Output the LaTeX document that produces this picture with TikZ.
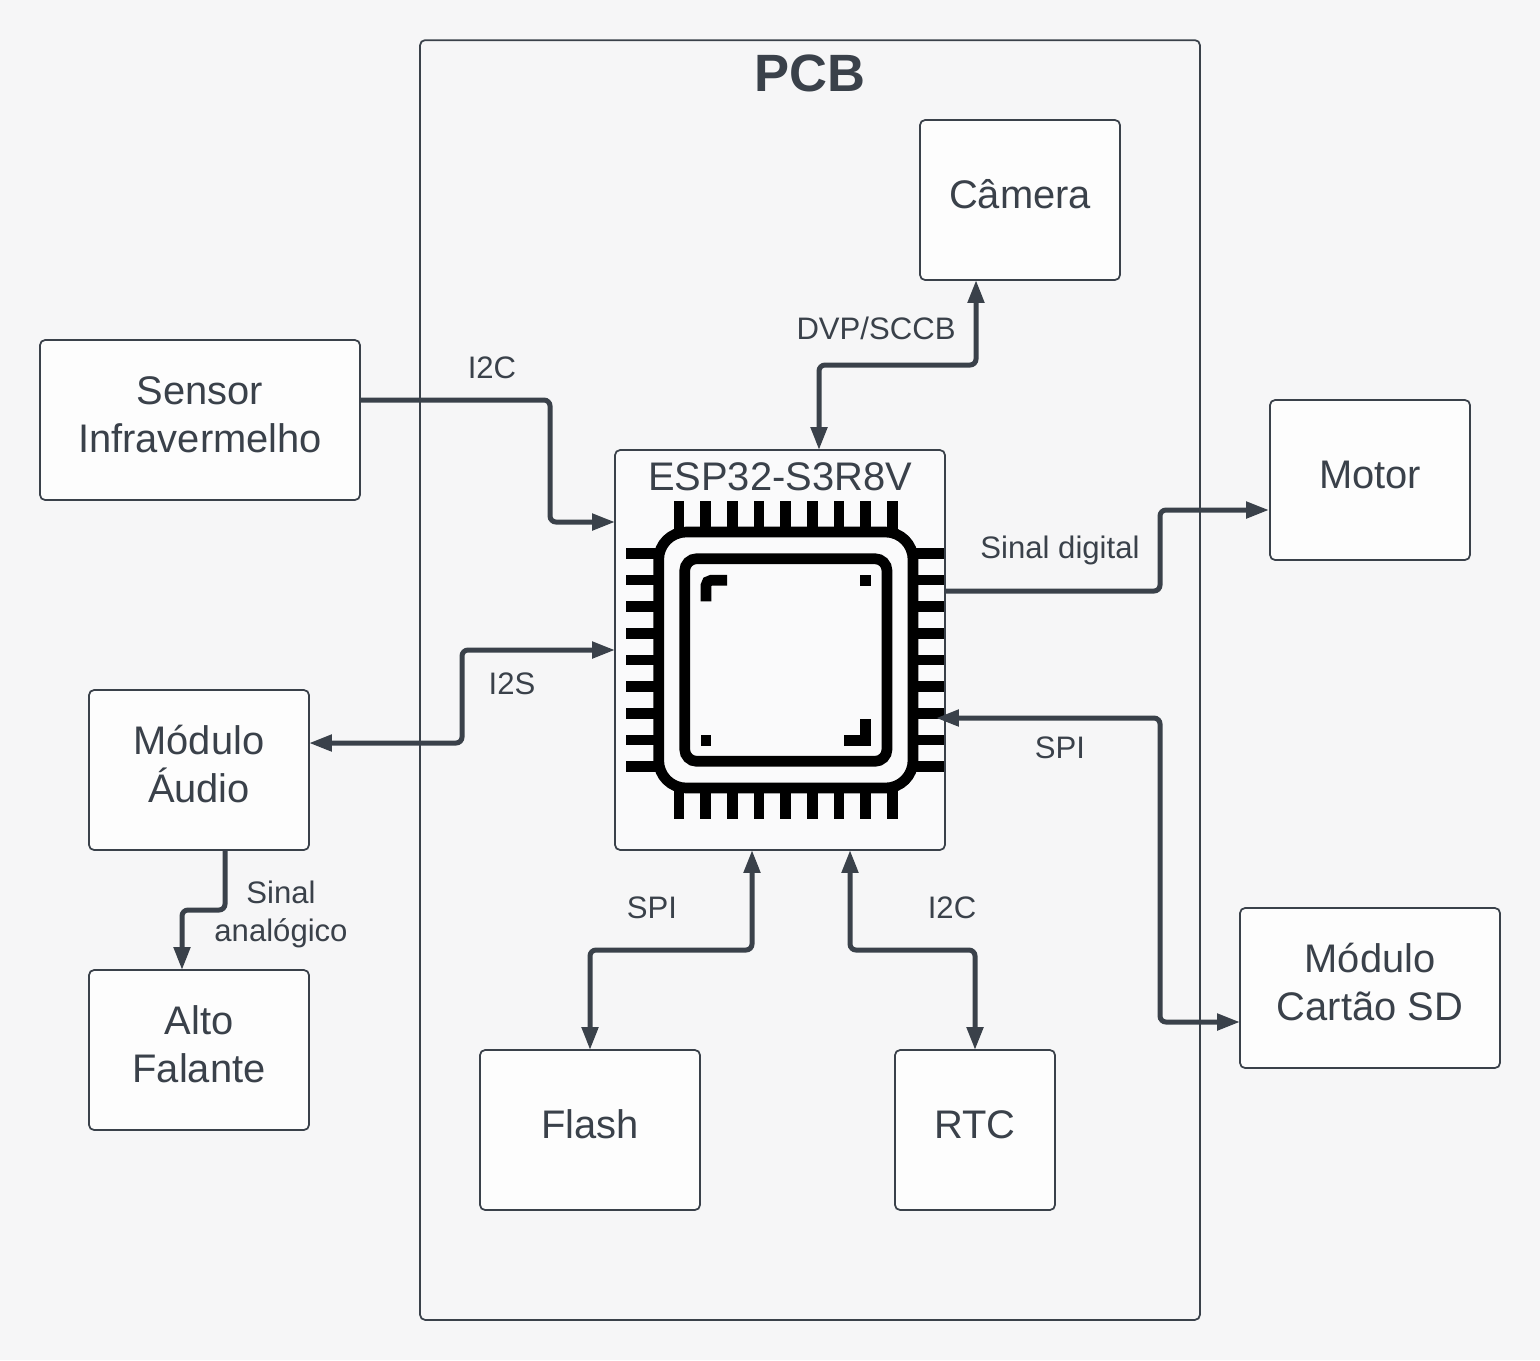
\documentclass[tikz,border=0pt]{standalone}
\usepackage{fontspec}
\setmainfont{Liberation Sans}
\usetikzlibrary{arrows.meta,calc,positioning}
\definecolor{inkcol}{HTML}{3A414A}
\definecolor{bgcol}{HTML}{F6F6F7}
\definecolor{boxcol}{HTML}{FDFDFD}
\tikzset{
  blockbox/.style={draw=inkcol,fill=boxcol,line width=0.035cm,rounded corners=0.1cm,outer sep=0pt,
    inner sep=0pt,align=center,text=inkcol,font=\fontsize{22.7}{27.4}\selectfont},
  oneline/.style={text height=20pt,text depth=9.8pt},
  twolines/.style={text height=47.4pt,text depth=10pt},
  busname/.style={text=inkcol,align=center,inner sep=0pt,font=\fontsize{17.7}{21.6}\selectfont},
  link/.style={draw=inkcol,line width=0.1cm,rounded corners=0.12cm},
  to tip/.style={-{Triangle[length=0.46cm,width=0.32cm]}},
  both tips/.style={{Triangle[length=0.46cm,width=0.32cm]}-{Triangle[length=0.46cm,width=0.32cm]}},
  pin/.style={line width=0.2133cm,black}
}
\begin{document}
\begin{tikzpicture}[x=0.02cm,y=-0.02cm]
\path[use as bounding box,fill=bgcol] (0,0) rectangle (1540,1360);
% placa
\node[blockbox,fill=bgcol,minimum width=15.6cm,minimum height=25.6cm] (pcb) at (810,680) {};
\node[text=inkcol,inner sep=0pt,font=\bfseries\fontsize{29.9}{32}\selectfont] (pcbname) at (810,73) {PCB};
% blocos
\node[blockbox,oneline,minimum width=4cm,minimum height=3.2cm] (camera) at (1020,200) {Câmera};
\node[blockbox,twolines,minimum width=6.4cm,minimum height=3.2cm] (sensor) at (200,420) {Sensor\\Infravermelho};
\node[blockbox,oneline,minimum width=4cm,minimum height=3.2cm] (motor) at (1370,480) {Motor};
\node[blockbox,twolines,minimum width=4.4cm,minimum height=3.2cm] (audio) at (199,770) {Módulo\\Áudio};
\node[blockbox,twolines,minimum width=4.4cm,minimum height=3.2cm] (falante) at (199,1050) {Alto\\Falante};
\node[blockbox,twolines,minimum width=5.2cm,minimum height=3.2cm] (sdcard) at (1370,988) {Módulo\\Cartão SD};
\node[blockbox,oneline,minimum width=4.4cm,minimum height=3.2cm] (flash) at (590,1130) {Flash};
\node[blockbox,oneline,minimum width=3.2cm,minimum height=3.2cm] (rtc) at (975,1130) {RTC};
\node[blockbox,fill=bgcol!40!boxcol,minimum width=6.6cm,minimum height=8cm] (esp) at (780,650) {};
\node[text=inkcol,inner sep=0pt,font=\fontsize{22.7}{27.2}\selectfont] (espname) at (780,477) {ESP32-S3R8V};
% chip
\foreach \i in {0,...,8} {
  \draw[pin] ({679+26.65*\i},501) -- ({679+26.65*\i},532);
  \draw[pin] ({679+26.65*\i},788) -- ({679+26.65*\i},819);
  \draw[pin] (626,{553.3+26.65*\i}) -- (659,{553.3+26.65*\i});
  \draw[pin] (913,{553.3+26.65*\i}) -- (944,{553.3+26.65*\i});
}
\draw[line width=0.2133cm,black,rounded corners=0.55cm] (658.7,532) rectangle (913,788);
\draw[line width=0.2133cm,black,rounded corners=0.24cm] (684.7,558.7) rectangle (887,761.3);
\draw[line width=0.2133cm,black,rounded corners=0.1cm] (706,601.3) -- (706,580.3) -- (727,580.3);
\draw[line width=0.2133cm,black] (865.7,719) -- (865.7,740.3) -- (844.3,740.3);
\fill[black] (860.3,575) rectangle (871,585.7);
\fill[black] (700.7,735) rectangle (711.3,745.7);
% ligacoes
\draw[link,to tip] ($(sensor.east)+(0,-20)$) -- (550,400) -- (550,522) -- ($(esp.west)+(0,-128)$);
\draw[link,both tips] ($(esp.north)+(39,0)$) -- (819,365) -- (976,365) -- ($(camera.south)+(-44,0)$);
\draw[link,to tip] ($(esp.east)+(1,-59)$) -- (1160,591) -- (1160,510) -- ($(motor.west)+(-1,30)$);
\draw[link,both tips] ($(esp.east)+(-9,68)$) -- (1160,718) -- (1160,1022) -- ($(sdcard.west)+(0,34)$);
\draw[link,both tips] ($(esp.west)+(0,0)$) -- (462,650) -- (462,743) -- ($(audio.east)+(0,-27)$);
\draw[link,to tip] ($(audio.south)+(26,0)$) -- (225,910) -- (182,910) -- ($(falante.north)+(-17,0)$);
\draw[link,both tips] ($(esp.south)+(-28,0)$) -- (752,950) -- (590,950) -- ($(flash.north)+(0,0)$);
\draw[link,both tips] ($(esp.south)+(70,0)$) -- (850,950) -- (975,950) -- ($(rtc.north)+(0,0)$);
% rotulos
\node[busname] (i2csensor) at (492,368) {I2C};
\node[busname] (dvp) at (876,328) {DVP/SCCB};
\node[busname] (digital) at (1060,550) {Sinal digital};
\node[busname] (i2s) at (512,684) {I2S};
\node[busname] (spisd) at (1060,748) {SPI};
\node[busname] (analog) at (281,914) {Sinal\\analógico};
\node[busname] (spiflash) at (652,908) {SPI};
\node[busname] (i2crtc) at (952,908) {I2C};
\end{tikzpicture}
\end{document}
